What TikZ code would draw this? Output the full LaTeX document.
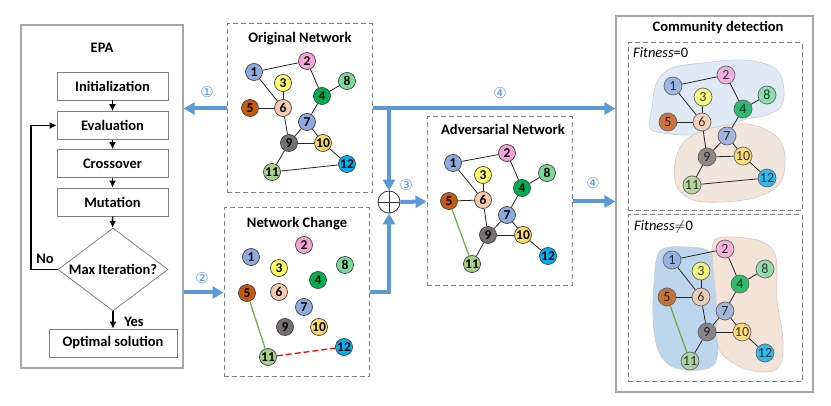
\documentclass[tikz,border=0pt]{standalone}
\usepackage{fontspec}
\setmainfont{Carlito}
\newfontfamily\circfont{DejaVu Sans}
\usetikzlibrary{arrows.meta,positioning,shapes.geometric,calc}
\definecolor{flow}{HTML}{5B9BD5}
\definecolor{frame}{HTML}{A6A6A6}
\definecolor{boxgray}{HTML}{7F7F7F}
\definecolor{dashgray}{HTML}{7F7F7F}
\definecolor{lgreen}{HTML}{70AD47}
\definecolor{lred}{HTML}{FF0000}
\definecolor{blobblue}{HTML}{DFEAF6}
\definecolor{blobtan}{HTML}{F2E6DC}
\definecolor{blobblueb}{HTML}{BDD6EE}
\definecolor{blobtanb}{HTML}{F4E4D8}
\definecolor{n1}{HTML}{8FAADC}
\definecolor{n2}{HTML}{F5A3D8}
\definecolor{n3}{HTML}{FFFF66}
\definecolor{n4}{HTML}{00B050}
\definecolor{n5}{HTML}{C55A11}
\definecolor{n6}{HTML}{F8CBAD}
\definecolor{n7}{HTML}{8FAADC}
\definecolor{n8}{HTML}{7BD99B}
\definecolor{n9}{HTML}{767171}
\definecolor{n10}{HTML}{FFD966}
\definecolor{n11}{HTML}{A9D18E}
\definecolor{n12}{HTML}{00B0F0}

\begin{document}
\begin{tikzpicture}[
  x=1pt, y=-1pt,
  font=\fontsize{14.5}{17}\selectfont,
  ttl/.style={font=\fontsize{14.5}{17}\selectfont\bfseries, inner sep=0},
  panel/.style={draw=frame, line width=1.3pt},
  dbox/.style={draw=dashgray, line width=1pt, dash pattern=on 5pt off 3pt},
  box/.style={draw=boxgray, line width=0.8pt, minimum width=111, minimum height=28, inner sep=0, font=\fontsize{14.5}{17}\selectfont\bfseries},
  dec/.style={diamond, draw=boxgray, line width=0.8pt, aspect=1.33, minimum width=110, minimum height=83, inner sep=1, font=\fontsize{14.5}{17}\selectfont\bfseries},
  fl/.style={draw=black, line width=1.4pt, -{Latex[length=7pt,width=7pt]}},
  barrow/.style={draw=flow, line width=4pt, -{Triangle[length=11pt,width=12pt]}},
  num/.style={text=flow, font=\circfont\fontsize{15}{15}\selectfont, inner sep=0},
  vtx/.style={circle, draw=black!75, line width=0.7pt, minimum size=17, inner sep=0, font=\fontsize{13.5}{13.5}\selectfont\bfseries},
  cvtx/.style={circle, draw=black!60, line width=0.7pt, minimum size=18, inner sep=0, fill opacity=0.8, text opacity=0.75, font=\fontsize{14}{14}\selectfont},
  link/.style={draw=black!85, line width=0.8pt},
  glink/.style={draw=lgreen, line width=1.3pt},
  rlink/.style={draw=lred, line width=1.3pt, dash pattern=on 6pt off 3pt},
  blob/.style={draw=black!20, line width=0.6pt},
]
\useasboundingbox (0,0) rectangle (831,406);
% EPA flow chart
\node[panel, minimum width=162, minimum height=343] (epa) at (102,196.5) {};
\node[ttl] (epat) at (102,48) {EPA};
\node[box] (init) at (112.5,86) {Initialization};
\node[box] (eval) at (112.5,125.5) {Evaluation};
\node[box] (cross) at (112.5,163.5) {Crossover};
\node[box] (mut) at (112.5,202) {Mutation};
\node[dec] (dia) at (113,269.5) {Max Iteration?};
\node[box, minimum width=128] (opt) at (113,343) {Optimal solution};
\draw[fl] (init) -- (eval);
\draw[fl] (eval) -- (cross);
\draw[fl] (cross) -- (mut);
\draw[fl] (mut) -- (dia);
\draw[fl] (dia) -- (opt);
\draw[fl] (dia.west) -- (31,0 |- dia.west) |- (eval.west);
\node[ttl] (no) at (45,259) {No};
\node[ttl] (yes) at (134,322) {Yes};
% the three network panels
\node[dbox, minimum width=145, minimum height=169] (orig) at (299.5,108.5) {};
\node[ttl] at (300,39) {Original Network};
\node[dbox, minimum width=145, minimum height=169] (change) at (296.5,292.5) {};
\node[ttl] at (297,224) {Network Change};
\node[dbox, minimum width=145, minimum height=169] (adv) at (499.5,201.5) {};
\node[ttl] at (503,129) {Adversarial Network};
% community detection panel
\node[panel, minimum width=197, minimum height=376] (comm) at (714.5,204) {};
\node[ttl] at (718,28) {Community detection};
\node[dbox, minimum width=174, minimum height=168] (ctop) at (715,127) {};
\node[dbox, minimum width=174, minimum height=167] (cbot) at (715,298.5) {};
\node[anchor=west, inner sep=0] at (633,53) {\textit{Fitness}=0};
\node[anchor=west, inner sep=0] at (634,227) {\textit{Fitness}$\neq$0};
% communities
\draw[blob, fill=blobblue] plot[smooth cycle, tension=0.6] coordinates {(650,128) (652,107) (657,82) (672,68) (703,63) (743,60) (773,67) (783,83) (782,105) (767,115) (743,120) (720,129) (693,135) (663,133)};
\draw[blob, fill=blobtan] plot[smooth cycle, tension=0.6] coordinates {(675,163) (683,143) (700,132) (727,125) (753,125) (777,137) (785,157) (780,183) (757,197) (723,202) (693,200) (677,187)};
\draw[blob, fill=blobblueb] plot[smooth cycle, tension=0.6] coordinates {(657,257) (665,248) (687,247) (707,250) (717,263) (717,300) (718,340) (715,363) (700,370) (673,367) (658,350) (653,317) (654,283)};
\draw[blob, fill=blobtanb] plot[smooth cycle, tension=0.6] coordinates {(713,243) (725,237) (757,240) (773,250) (777,267) (777,300) (783,340) (780,365) (767,372) (743,368) (723,355) (717,340) (716,300) (713,267)};
% nodes of each network
\foreach \i/\x/\y in {1/254/72,2/307/61,3/283/83,4/322/96,5/250/108,6/283/108,7/307/122,8/347/81,9/289/143,10/323/143,11/272/172,12/347/164}
  \node[vtx, fill=n\i] (o\i) at (\x,\y) {\i};
\foreach \i/\x/\y in {1/251/257,2/304/245,3/279/268,4/318/280,5/247/293,6/279/292,7/304/307,8/345/265,9/285/327,10/319/327,11/268/357,12/344/347}
  \node[vtx, fill=n\i] (c\i) at (\x,\y) {\i};
\foreach \i/\x/\y in {1/453/163,2/507/153,3/483/175,4/522/188,5/449/201,6/483/200,7/507/215,8/547/173,9/488/235,10/523/235,11/472/264,12/548/256}
  \node[vtx, fill=n\i] (a\i) at (\x,\y) {\i};
\foreach \i/\x/\y in {1/673/86,2/726/75,3/703/97,4/743/109,5/668/122,6/702/122,7/727/136,8/767/95,9/707/157,10/743/156,11/692/185,12/767/178}
  \node[cvtx, fill=n\i] (t\i) at (\x,\y) {\i};
\foreach \i/\x/\y in {1/672/260,2/725/249,3/701/271,4/740/284,5/667/297,6/701/297,7/725/311,8/765/269,9/707/332,10/742/332,11/690/361,12/765/353}
  \node[cvtx, fill=n\i] (b\i) at (\x,\y) {\i};
% edges
\foreach \u/\v in {1/2,1/6,3/6,5/6,2/4,4/8,4/7,6/9,7/9,7/10,9/10,9/11,10/12,11/12} {
  \draw[link] (o\u) -- (o\v);
  \draw[link] (t\u) -- (t\v);
}
\foreach \u/\v in {1/2,1/6,3/6,5/6,2/4,4/8,4/7,6/9,7/9,7/10,9/10,9/11,10/12} {
  \draw[link] (a\u) -- (a\v);
  \draw[link] (b\u) -- (b\v);
}
\draw[glink] (c5) -- (c11);
\draw[rlink] (c11) -- (c12);
\draw[glink] (a5) -- (a11);
\draw[glink] (b5) -- (b11);
% blue data flow
\node[circle, draw=black!80, fill=white, line width=0.8pt, minimum size=22, inner sep=0] (sum) at (389,202) {};
\draw[black!80, line width=0.8pt] (sum.north) -- (sum.south) (sum.west) -- (sum.east);
\draw[barrow] (orig.west) -- (orig.west -| epa.east);
\draw[barrow] (epa.east |- change.west) -- (change.west);
\draw[barrow] (orig.east) -- (orig.east -| comm.west);
\draw[barrow] (orig.east -| sum) -- (sum.north);
\draw[barrow] (change.east) -| (sum.south);
\draw[barrow] (sum.east) -- (adv.west);
\draw[barrow] (adv.east) -- (adv.east -| comm.west);
\node[num] at (207,92) {①};
\node[num] at (202,278) {②};
\node[num] at (406,185) {③};
\node[num] at (500,93) {④};
\node[num] at (593,183) {④};
\end{tikzpicture}
\end{document}
